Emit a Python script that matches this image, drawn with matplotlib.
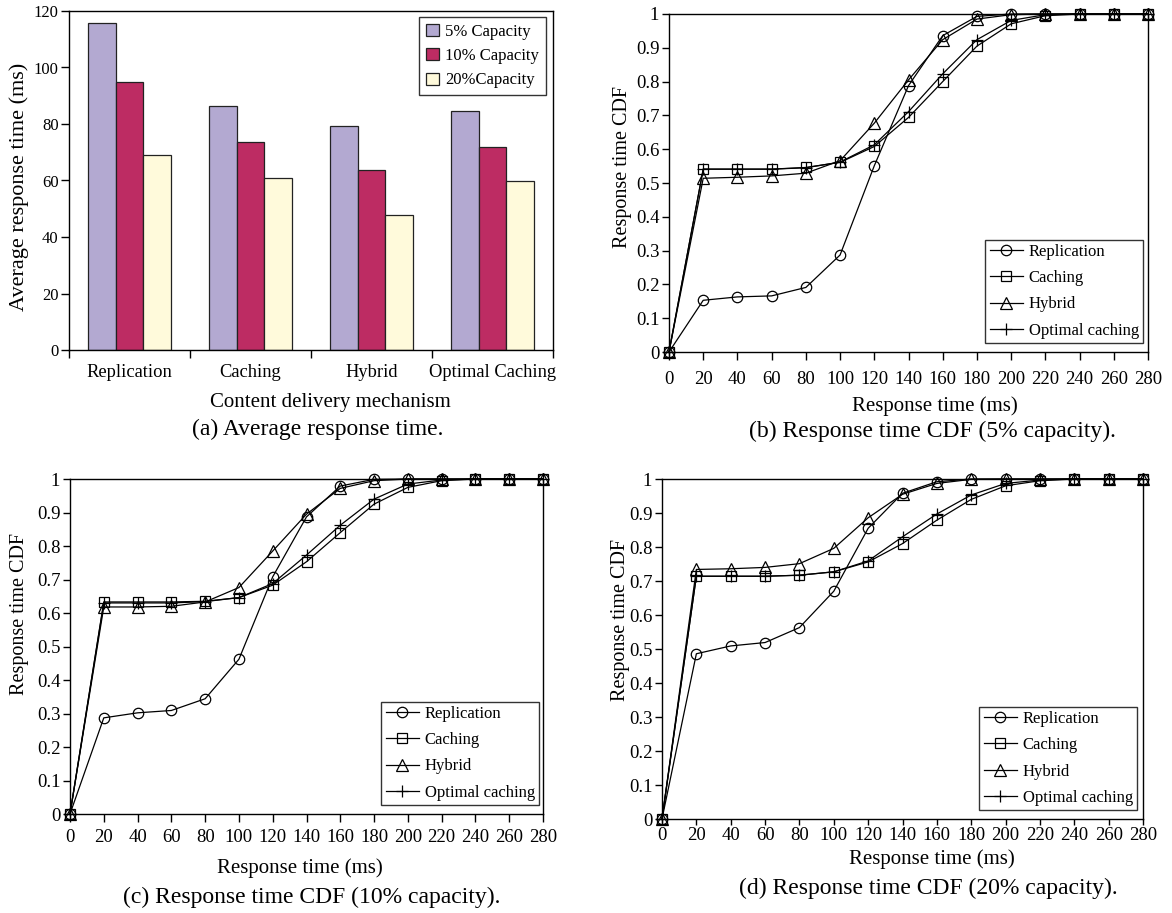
import numpy as np
import matplotlib
matplotlib.use("Agg")
from matplotlib import pyplot as plt

plt.rcParams['font.family'] = ['Liberation Serif', 'DejaVu Serif']

# ---- data -------------------------------------------------------------
mechanisms = ["Replication", "Caching", "Hybrid", "Optimal Caching"]
capacity_labels = ["5% Capacity", "10% Capacity", "20%Capacity"]
avg_5 = [115.8, 86.3, 79.2, 84.7]
avg_10 = [94.9, 73.6, 63.8, 71.7]
avg_20 = [69.2, 60.9, 47.9, 59.8]

resp_time = [0, 20, 40, 60, 80, 100, 120, 140, 160, 180, 200, 220, 240, 260, 280]
series_names = ["Replication", "Caching", "Hybrid", "Optimal caching"]

# 5% capacity
cdf5_rep = [0, 0.153, 0.163, 0.166, 0.191, 0.287, 0.551, 0.788, 0.936, 0.993, 1.0, 1.0, 1.0, 1.0, 1.0]
cdf5_cach = [0, 0.541, 0.541, 0.541, 0.546, 0.561, 0.608, 0.694, 0.800, 0.905, 0.971, 0.995, 1.0, 1.0, 1.0]
cdf5_hyb = [0, 0.514, 0.517, 0.521, 0.529, 0.566, 0.677, 0.805, 0.924, 0.985, 0.998, 1.0, 1.0, 1.0, 1.0]
cdf5_opt = [0, 0.541, 0.541, 0.541, 0.545, 0.562, 0.613, 0.711, 0.823, 0.924, 0.981, 0.998, 1.0, 1.0, 1.0]

# 10% capacity
cdf10_rep = [0, 0.287, 0.302, 0.309, 0.344, 0.462, 0.708, 0.887, 0.979, 0.999, 1.0, 1.0, 1.0, 1.0, 1.0]
cdf10_cach = [0, 0.633, 0.633, 0.633, 0.635, 0.646, 0.683, 0.753, 0.840, 0.925, 0.975, 0.995, 1.0, 1.0, 1.0]
cdf10_hyb = [0, 0.618, 0.618, 0.620, 0.633, 0.676, 0.785, 0.895, 0.972, 0.995, 1.0, 1.0, 1.0, 1.0, 1.0]
cdf10_opt = [0, 0.630, 0.630, 0.630, 0.634, 0.646, 0.688, 0.773, 0.862, 0.940, 0.985, 0.997, 1.0, 1.0, 1.0]

# 20% capacity
cdf20_rep = [0, 0.486, 0.509, 0.519, 0.563, 0.670, 0.855, 0.958, 0.992, 1.0, 1.0, 1.0, 1.0, 1.0, 1.0]
cdf20_cach = [0, 0.714, 0.714, 0.714, 0.717, 0.727, 0.756, 0.810, 0.879, 0.940, 0.980, 0.995, 1.0, 1.0, 1.0]
cdf20_hyb = [0, 0.734, 0.736, 0.740, 0.751, 0.796, 0.886, 0.955, 0.987, 0.999, 1.0, 1.0, 1.0, 1.0, 1.0]
cdf20_opt = [0, 0.714, 0.714, 0.714, 0.717, 0.727, 0.759, 0.830, 0.897, 0.953, 0.987, 0.997, 1.0, 1.0, 1.0]

W, H = 1172, 913
fig = plt.figure(figsize=(W / 100, H / 100), dpi=100)


def px_axes(left, top, right, bottom):
    return fig.add_axes([left / W, 1 - bottom / H, (right - left) / W, (bottom - top) / H])


def px_text(x, y, s, size, rot=0):
    fig.text(x / W, 1 - y / H, s, fontsize=size, ha='center', va='center', rotation=rot)


def style_axes(ax):
    for s in ax.spines.values():
        s.set_linewidth(1.0)
    ax.tick_params(direction='out', length=5.5, width=1, top=False, right=False)


# ---- (a) bar chart ----------------------------------------------------
ax = px_axes(69, 11, 553, 350)
style_axes(ax)
x = np.arange(len(mechanisms))
bw = 0.227
colors = ['#b3a9d1', '#bd2c63', '#fffadb']
for i, (vals, c, lab) in enumerate(zip([avg_5, avg_10, avg_20], colors, capacity_labels)):
    ax.bar(x + (i - 1) * bw, vals, bw, color=c, edgecolor='#222222', linewidth=0.9, label=lab)
ax.set_xlim(-0.5, 3.5)
ax.set_ylim(0, 120)
ax.set_yticks(np.arange(0, 121, 20))
# ticks sit on the category borders, names go in between
ax.set_xticks(np.arange(-0.5, 3.6, 1))
ax.set_xticklabels([])
ax.set_xticks(x, minor=True)
ax.set_xticklabels(mechanisms, minor=True, fontsize=13.3)
ax.tick_params(axis='x', which='minor', length=0, pad=10)
ax.tick_params(axis='y', labelsize=12, pad=2)
leg = ax.legend(loc='upper right', bbox_to_anchor=(0.985, 0.982), fontsize=12, frameon=True,
                fancybox=False, edgecolor='black', handlelength=0.75, handleheight=0.75,
                handletextpad=0.4, borderpad=0.4, labelspacing=0.5, borderaxespad=0)
leg.get_frame().set_linewidth(1.0)
px_text(19, 187, "Average response time (ms)", 16, rot=90)
px_text(330, 402, "Content delivery mechanism", 15)
px_text(318, 429, "(a) Average response time.", 17)

# ---- CDF panels -------------------------------------------------------
markers = ['o', 's', '^', '+']
msizes = [7.5, 7, 8.5, 9]


def cdf_panel(box, data, xpad, tick_len, legend_anchor):
    ax = px_axes(*box)
    style_axes(ax)
    for vals, m, ms, name in zip(data, markers, msizes, series_names):
        ax.plot(resp_time, vals, color='black', linewidth=0.9, marker=m, markersize=ms,
                markerfacecolor='none', markeredgecolor='black', markeredgewidth=0.9,
                label=name, clip_on=False)
    ax.set_xlim(0, 280)
    ax.set_ylim(0, 1)
    ax.set_xticks(resp_time)
    ax.set_yticks(np.round(np.arange(0, 1.01, 0.1), 1))
    ax.set_yticklabels(["0", "0.1", "0.2", "0.3", "0.4", "0.5", "0.6", "0.7", "0.8", "0.9", "1"])
    ax.tick_params(axis='both', labelsize=13.5)
    ax.tick_params(axis='x', pad=xpad, length=tick_len)
    ax.tick_params(axis='y', pad=2, length=5)
    leg = ax.legend(loc='lower right', bbox_to_anchor=legend_anchor, fontsize=12, frameon=True,
                    fancybox=False, edgecolor='black', handlelength=2.0, handletextpad=0.35,
                    borderpad=0.25, labelspacing=0.62, borderaxespad=0)
    leg.get_frame().set_linewidth(1.0)
    return ax


# (b) 5% capacity
cdf_panel((669, 14, 1148, 352), [cdf5_rep, cdf5_cach, cdf5_hyb, cdf5_opt], 8, 6, (0.99, 0.027))
px_text(623, 167, "Response time CDF", 14.5, rot=90)
px_text(935, 406, "Response time (ms)", 15)
px_text(932, 431, "(b) Response time CDF (5% capacity).", 17)

# (c) 10% capacity
cdf_panel((70, 479, 543, 814), [cdf10_rep, cdf10_cach, cdf10_hyb, cdf10_opt], 5, 6, (0.992, 0.027))
px_text(20, 614, "Response time CDF", 14.5, rot=90)
px_text(300, 868, "Response time (ms)", 15)
px_text(312, 897, "(c) Response time CDF (10% capacity).", 17)

# (d) 20% capacity
cdf_panel((662, 479, 1143, 819), [cdf20_rep, cdf20_cach, cdf20_hyb, cdf20_opt], 2, 4, (0.988, 0.026))
px_text(621, 620, "Response time CDF", 14.5, rot=90)
px_text(932, 859, "Response time (ms)", 15)
px_text(928, 888, "(d) Response time CDF (20% capacity).", 17)

fig.savefig("out.png", dpi=100)
